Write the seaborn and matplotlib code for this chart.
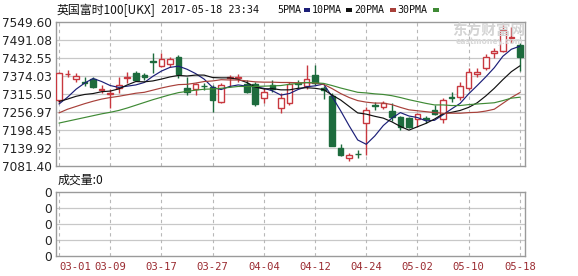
import numpy as np
import pandas as pd
import matplotlib
matplotlib.use("Agg")
import matplotlib.pyplot as plt
from matplotlib.patches import Rectangle
import seaborn as sns

# ---------------- data ----------------
dates = ["03-01","03-02","03-03","03-06","03-07","03-08","03-09","03-10","03-13","03-14",
         "03-15","03-16","03-17","03-20","03-21","03-22","03-23","03-24","03-27","03-28",
         "03-29","03-30","03-31","04-03","04-04","04-05","04-06","04-07","04-10","04-11",
         "04-12","04-13","04-18","04-19","04-20","04-21","04-24","04-25","04-26","04-27",
         "04-28","05-01","05-02","05-03","05-04","05-05","05-08","05-09","05-10","05-11",
         "05-12","05-15","05-16","05-17","05-18"]
opens = [7296,7380,7364,7356,7364,7330,7316,7335,7368,7384,
         7376,7422,7406,7413,7436,7335,7332,7343,7338,7290,
         7366,7369,7348,7348,7302,7345,7270,7286,7350,7342,
         7377,7336,7309,7140,7107,7122,7221,7281,7274,7260,
         7240,7237,7234,7237,7263,7234,7307,7306,7335,7381,
         7400,7450,7455,7499,7475]
highs = [7386,7394,7384,7371,7370,7344,7331,7371,7387,7390,
         7384,7449,7449,7436,7442,7370,7351,7351,7344,7351,
         7377,7380,7361,7354,7335,7361,7318,7354,7361,7409,
         7409,7340,7319,7153,7124,7133,7273,7289,7293,7286,
         7244,7240,7254,7244,7280,7302,7322,7354,7400,7400,
         7446,7465,7540,7533,7481]
lows = [7286,7372,7355,7341,7335,7318,7270,7318,7351,7358,
        7361,7384,7403,7403,7367,7312,7312,7328,7257,7286,
        7338,7354,7318,7276,7286,7322,7253,7279,7335,7332,
        7344,7299,7146,7114,7098,7107,7117,7263,7268,7227,
        7198,7205,7208,7221,7247,7221,7290,7296,7328,7371,
        7393,7433,7452,7481,7390]
closes = [7383,7382,7374,7352,7338,7333,7319,7344,7371,7360,
          7372,7418,7429,7429,7380,7322,7348,7340,7296,7345,
          7372,7371,7322,7283,7322,7332,7302,7348,7347,7364,
          7351,7328,7147,7117,7117,7119,7262,7278,7287,7240,
          7208,7208,7250,7234,7250,7296,7304,7342,7387,7387,
          7436,7454,7525,7502,7436]
ma5 = [7283,7305,7331,7351,7366,7356,7343,7337,7341,7345,
       7353,7373,7390,7402,7406,7396,7382,7364,7337,7330,
       7340,7345,7341,7339,7334,7326,7312,7317,7330,7339,
       7342,7348,7307,7261,7212,7166,7152,7179,7213,7237,
       7255,7244,7239,7228,7230,7248,7267,7285,7316,7343,
       7371,7401,7438,7461,7471]
ma10 = [7291,7299,7308,7314,7317,7323,7325,7332,7345,7356,
        7355,7358,7364,7371,7376,7374,7377,7377,7369,7368,
        7368,7363,7353,7338,7332,7333,7329,7329,7334,7336,
        7334,7330,7312,7296,7275,7254,7250,7243,7237,7225,
        7210,7198,7209,7220,7234,7251,7256,7262,7272,7287,
        7309,7334,7362,7388,7407]
ma20 = [7254,7266,7275,7284,7292,7299,7304,7308,7313,7318,
        7321,7328,7335,7341,7346,7347,7351,7356,7358,7362,
        7361,7361,7358,7355,7354,7354,7353,7353,7352,7352,
        7351,7347,7333,7317,7304,7294,7289,7286,7286,7281,
        7272,7264,7261,7258,7255,7253,7253,7253,7255,7256,
        7260,7266,7285,7304,7320]
ma30 = [7221,7227,7233,7239,7245,7251,7256,7262,7270,7279,
        7288,7297,7305,7313,7320,7324,7328,7331,7332,7334,
        7337,7340,7340,7340,7341,7342,7343,7347,7350,7353,
        7352,7350,7343,7335,7328,7321,7319,7316,7314,7310,
        7304,7297,7291,7285,7280,7280,7278,7278,7281,7283,
        7285,7287,7294,7302,7305]
volumes = [0] * 55
price_ticks = [7081.40, 7139.92, 7198.45, 7256.97, 7315.50, 7374.03, 7432.55, 7491.08, 7549.60]
vol_ticks = [0, 1, 2, 3, 4]
vol_tick_labels = ["0", "0", "0", "0", "0"]
label_every = 6
ma_names = ["5PMA", "10PMA", "20PMA", "30PMA"]

# ---------------- style ----------------
sns.set_style("white")
plt.rcParams['font.family'] = ['DejaVu Sans', 'Noto Sans CJK SC']

RED = "#c8383f"
GREEN = "#1d6b3d"
ma_colors = {"5PMA": "#1c1f78", "10PMA": "#111111", "20PMA": "#a8403a", "30PMA": "#3f8a35"}
GRID = "#c8c8c8"
BORDER = "#9a9a9a"
DATE_COL = "#9a2a30"

W, H = 578, 276
fig = plt.figure(figsize=(W / 100, H / 100), dpi=100)
fig.patch.set_facecolor("white")


def fx(x):
    return x / W


def fy(y):
    return 1 - y / H


ax = fig.add_axes([fx(56), fy(166), (525 - 56) / W, (166 - 22) / H])
axv = fig.add_axes([fx(56), fy(256), (525 - 56) / W, (256 - 192) / H])

n = len(closes)
x = np.arange(n)

# ---------------- candles ----------------
o = np.array(opens, float)
c = np.array(closes, float)
hi = np.array(highs, float)
lo = np.array(lows, float)
up = c >= o
wick_col = np.where(up, RED, GREEN)
ax.vlines(x, lo, hi, colors=wick_col, linewidth=1.0, zorder=2)
bottom = np.minimum(o, c)
height = np.abs(c - o)
ax.bar(x[up], height[up], bottom=bottom[up], width=0.66, facecolor="white",
       edgecolor=RED, linewidth=1.0, zorder=3)
ax.bar(x[~up], height[~up], bottom=bottom[~up], width=0.66, facecolor=GREEN,
       edgecolor=GREEN, linewidth=1.0, zorder=3)

# ---------------- moving averages (seaborn) ----------------
ma_df = pd.DataFrame({
    "idx": np.tile(x, 4),
    "value": np.concatenate([ma5, ma10, ma20, ma30]),
    "series": np.repeat(ma_names, n),
})
sns.lineplot(data=ma_df, x="idx", y="value", hue="series", palette=ma_colors,
             hue_order=ma_names, linewidth=0.85, legend=False, ax=ax, zorder=4)

# ---------------- axes formatting ----------------
tick_idx = list(range(0, n, label_every))
for a in (ax, axv):
    a.set_xlim(-0.35, 54.6)
    a.set_xlabel("")
    a.set_ylabel("")
    for s in a.spines.values():
        s.set_color(BORDER)
        s.set_linewidth(1.0)
    a.tick_params(length=0)
    for t in tick_idx:
        a.axvline(t, color="#b8b8b8", linewidth=0.8, linestyle=(0, (3, 3)), zorder=1)

ax.set_ylim(price_ticks[0], price_ticks[-1])
ax.set_yticks(price_ticks)
ax.set_yticklabels([f"{v:.2f}" for v in price_ticks], fontsize=8.7, color="#222222")
ax.tick_params(axis="y", pad=3)
for v in price_ticks[1:-1]:
    ax.axhline(v, color=GRID, linewidth=0.9, zorder=0)
ax.set_xticks([])

# volume panel
axv.bar(x, volumes, width=0.66, color=GREEN)
axv.set_ylim(vol_ticks[0], vol_ticks[-1])
axv.set_yticks(vol_ticks)
axv.set_yticklabels(vol_tick_labels, fontsize=8.7, color="#222222")
axv.tick_params(axis="y", pad=3)
for v in vol_ticks[1:-1]:
    axv.axhline(v, color=GRID, linewidth=0.9, zorder=0)
axv.set_xticks(tick_idx)
axv.set_xticklabels([dates[i] for i in tick_idx], fontsize=7.6,
                    color=DATE_COL, family="DejaVu Sans Mono")
axv.tick_params(axis="x", pad=4)
lbls = axv.get_xticklabels()
lbls[0].set_ha("left")

# ---------------- header texts ----------------
cjk = ['Noto Sans CJK SC', 'DejaVu Sans']
fig.text(fx(57), fy(10), "英国富时100[UKX]", fontsize=8.6, family=cjk,
         va="center", ha="left", color="#111111")
fig.text(fx(161), fy(10), "2017-05-18 23:34", fontsize=7.4, family="DejaVu Sans Mono",
         va="center", ha="left", color="#111111")
legend_pos = [(277, 304), (312, 346), (354, 390), (397, 433)]
for name, (tx, sx) in zip(ma_names, legend_pos):
    fig.text(fx(tx), fy(10), name, fontsize=7.2, family="DejaVu Sans Mono",
             va="center", ha="left", color="#111111")
    fig.patches.append(Rectangle((fx(sx), fy(12)), 6 / W, 4 / H,
                                 transform=fig.transFigure, facecolor=ma_colors[name],
                                 edgecolor="none"))

fig.text(fx(58), fy(180), "成交量:0", fontsize=8.6, family=cjk,
         va="center", ha="left", color="#111111")

# watermark
fig.text(fx(489), fy(31), "东方财富网", fontsize=10.5, family=cjk, fontweight="bold",
         va="center", ha="center", color="#d4d4d4", zorder=0)
fig.text(fx(489), fy(42), "eastmoney.com", fontsize=5.5, fontweight="bold",
         va="center", ha="center", color="#d8d8d8", zorder=0)

fig.savefig("out.png", dpi=100, facecolor="white")
